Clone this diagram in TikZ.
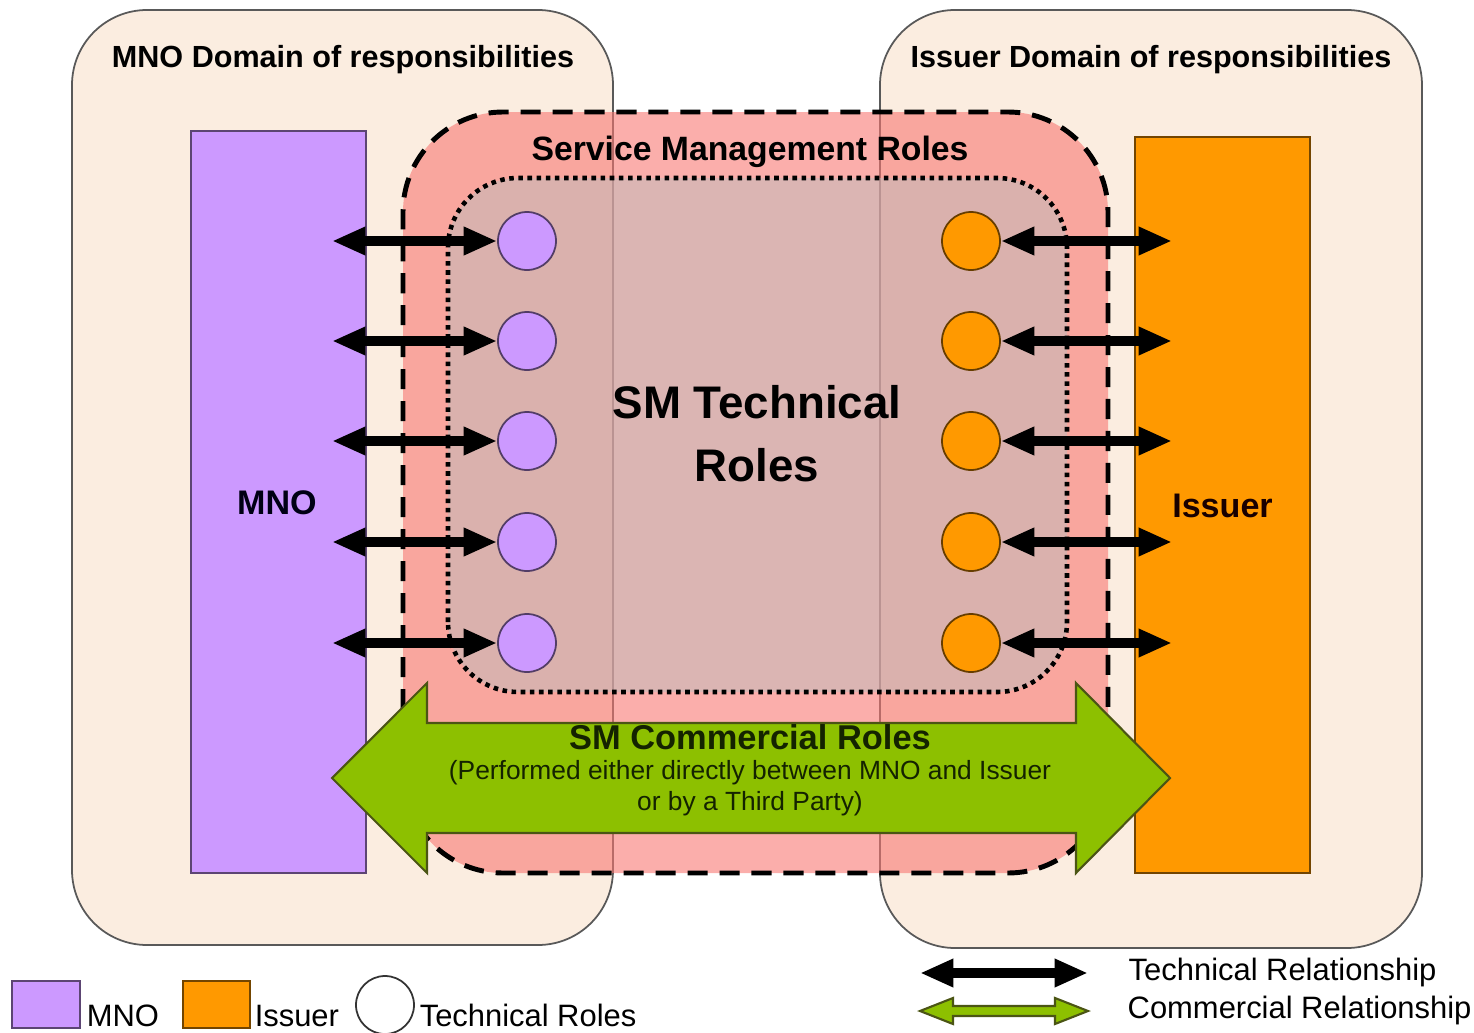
\documentclass[tikz,border=0pt]{standalone}
\usepackage{fontspec}
\setmainfont{Liberation Sans}
\usepackage{tikz}
\usetikzlibrary{arrows.meta,calc,positioning}
\definecolor{domfill}{RGB}{251,237,224}
\definecolor{mnofill}{RGB}{204,153,255}
\definecolor{issfill}{RGB}{255,153,0}
\definecolor{smfill}{RGB}{248,120,115}
\definecolor{tecfill}{RGB}{188,188,188}
\definecolor{comfill}{RGB}{141,192,0}
\definecolor{comline}{RGB}{75,85,20}
\definecolor{comtext}{RGB}{20,35,0}

\tikzset{
  dombox/.style={draw=black!65, fill=domfill, rounded corners=0.75cm, line width=0.5pt},
  partybox/.style={draw=#1!45!black, fill=#1, line width=0.6pt},
  rolecirc/.style={circle, minimum size=0.58cm, inner sep=0pt, draw=#1!40!black, fill=#1, line width=0.5pt},
  techarrow/.style={line width=2.6pt, {Triangle[length=9.5pt,width=7.5pt]}-{Triangle[length=9.5pt,width=7.5pt]}},
  commarrow/.style={fill=comfill, draw=comline, line width=0.6pt, line join=miter},
  domtitle/.style={font=\bfseries\fontsize{8.7}{10}\selectfont},
  legtext/.style={font=\fontsize{8.8}{10}\selectfont, inner sep=0pt},
}

\begin{document}
\begin{tikzpicture}
            \useasboundingbox (0,0) rectangle (14.74,10.32);
            % domains of responsibilities
            \draw[dombox] (0.72,0.87) rectangle (6.13,10.22);
            \draw[dombox] (8.80,0.84) rectangle (14.22,10.22);
            \node[domtitle] (mnotitle) at (3.43,9.72) {MNO Domain of responsibilities};
            \node[domtitle] (isstitle) at (11.51,9.72) {Issuer Domain of responsibilities};
            % service management roles
            \filldraw[fill=smfill, fill opacity=0.6, line width=1.4pt, dash pattern=on 5.7pt off 3.4pt, rounded corners=1cm]
              (4.03,1.59) rectangle (11.08,9.20);
            \filldraw[fill=tecfill, fill opacity=0.5, line width=1.3pt, dash pattern=on 1.3pt off 1.3pt, rounded corners=0.7cm]
              (4.48,3.40) rectangle (10.67,8.54);
            \node[font=\bfseries\fontsize{9.6}{11}\selectfont] (smtitle) at (7.50,8.80) {Service Management Roles};
            \node[font=\bfseries\fontsize{13}{18}\selectfont, align=center] (smtech) at (7.57,5.98) {SM Technical\\Roles};
            % parties
            \filldraw[partybox=mnofill] (1.91,1.59) rectangle (3.66,9.01);
            \filldraw[partybox=issfill] (11.35,1.59) rectangle (13.10,8.95);
            \node[font=\bfseries\fontsize{9.7}{11}\selectfont, text=black!92!blue] (mno) at (2.77,5.29) {MNO};
            \node[font=\bfseries\fontsize{9.7}{11}\selectfont, text=black!90!red] (iss) at (12.225,5.26) {Issuer};
            \coordinate (mnoedge) at (3.66,5.29);
            \coordinate (issedge) at (11.35,5.26);
            % technical roles
            \foreach \i/\y in {1/7.91,2/6.91,3/5.91,4/4.90,5/3.89} {
              \node[rolecirc=mnofill] (p\i) at (5.27,\y) {};
              \node[rolecirc=issfill] (o\i) at (9.71,\y) {};
              \draw[techarrow] ($(mnoedge |- p\i)+(-0.34,0)$) -- (p\i);
              \draw[techarrow] (o\i) -- ($(issedge |- o\i)+(0.37,0)$);
            }
            % commercial roles
            \coordinate (cl) at (3.32,2.54);
            \coordinate (cr) at (11.70,2.54);
            \filldraw[commarrow] (cl) -- (4.27,3.49) -- (4.27,3.09) -- (10.76,3.09) -- (10.76,3.49) -- (cr)
              -- (10.76,1.59) -- (10.76,1.99) -- (4.27,1.99) -- (4.27,1.59) -- cycle;
            \node[font=\bfseries\fontsize{9.8}{11}\selectfont, text=comtext] (smcom) at (7.50,2.95) {SM Commercial Roles};
            \node[font=\fontsize{7.5}{8.8}\selectfont, text=comtext, align=center] (smcomtxt) at (7.50,2.44)
              {(Performed either directly between MNO and Issuer\\or by a Third Party)};
            % legend
            \node[partybox=mnofill, minimum width=0.68cm, minimum height=0.47cm, inner sep=0pt] (kmno) at (0.46,0.275) {};
            \node[partybox=issfill, minimum width=0.67cm, minimum height=0.47cm, inner sep=0pt] (kiss) at (2.165,0.275) {};
            \node[circle, draw=black!80, fill=white, minimum size=0.58cm, inner sep=0pt, line width=0.5pt] (krole) at (3.85,0.27) {};
            \node[legtext, anchor=base west] (tmno) at ($(kmno.south east)+(0.05,0.03)$) {MNO};
            \node[legtext, anchor=base west] (tiss) at ($(kiss.south east)+(0.03,0.03)$) {Issuer};
            \node[legtext, anchor=base west] (trole) at ($(kmno.south east)+(3.38,0.03)$) {Technical Roles};
            \coordinate (kt1) at (9.20,0.59);
            \coordinate (kt2) at (10.88,0.59);
            \draw[techarrow] (kt1) -- (kt2);
            \coordinate (kc1) at (9.20,0.21);
            \coordinate (kc2) at (10.88,0.21);
            \filldraw[commarrow] (kc1) -- ++(0.33,0.13) -- ++(0,-0.08) -- ($(kc2)+(-0.33,0.05)$) -- ++(0,0.08) -- (kc2)
              -- ++(-0.33,-0.13) -- ++(0,0.08) -- ($(kc1)+(0.33,-0.05)$) -- ++(0,-0.08) -- cycle;
            \node[legtext, anchor=west] (ttech) at (11.28,0.60) {Technical Relationship};
            \node[legtext, anchor=west] (tcomm) at (11.27,0.22) {Commercial Relationship};
          \end{tikzpicture}
\end{document}
